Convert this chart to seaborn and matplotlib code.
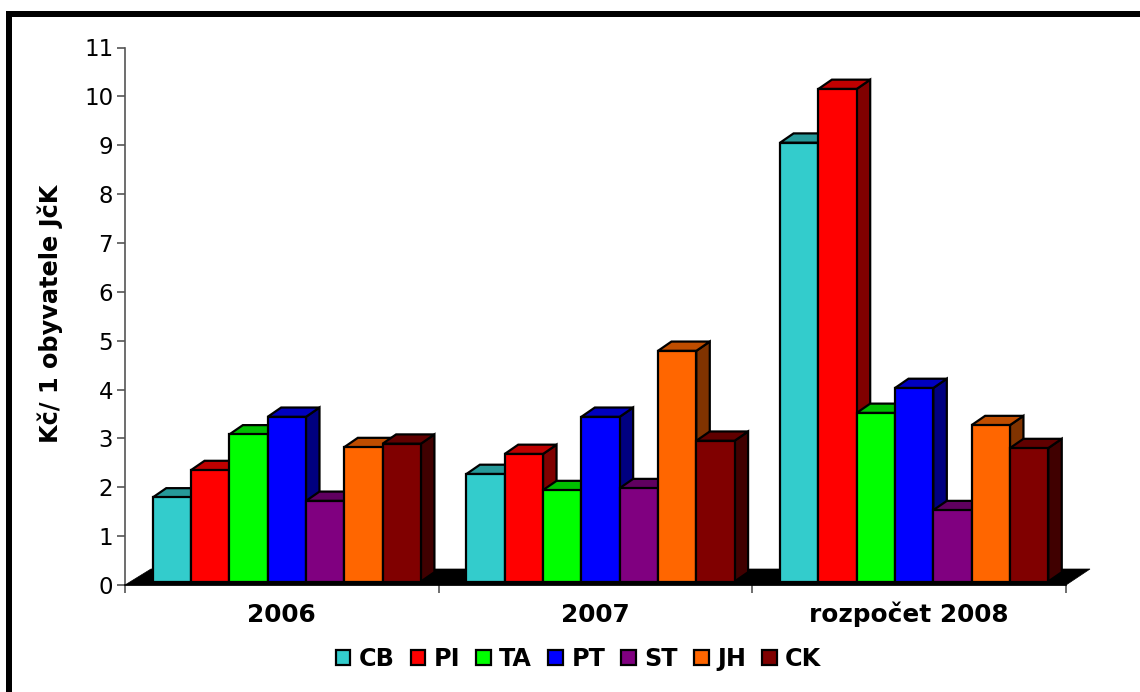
import matplotlib
matplotlib.use("Agg")
import matplotlib.pyplot as plt
from matplotlib.colors import to_rgb
from matplotlib.patches import Polygon, Rectangle
import pandas as pd
import seaborn as sns

groups = ["2006", "2007", "rozpočet 2008"]
regions = ["CB", "PI", "TA", "PT", "ST", "JH", "CK"]
cb = [1.72, 2.20, 8.98]
pi = [2.28, 2.61, 10.08]
ta = [3.01, 1.87, 3.45]
pt = [3.37, 3.37, 3.96]
st = [1.65, 1.91, 1.46]
jh = [2.75, 4.72, 3.20]
ck = [2.82, 2.88, 2.73]
colors = ["#33CCCC", "#FF0000", "#00FF00", "#0000FF", "#800080", "#FF6600", "#800000"]
yticks = list(range(12))

sns.set_style("white")
plt.rcParams["font.family"] = "DejaVu Sans"
plt.rcParams["text.color"] = "black"
plt.rcParams["axes.labelcolor"] = "black"
plt.rcParams["xtick.labelcolor"] = "black"
plt.rcParams["ytick.labelcolor"] = "black"

rows = []
for name, vals in zip(regions, [cb, pi, ta, pt, st, jh, ck]):
    for g, v in zip(groups, vals):
        rows.append({"group": g, "region": name, "value": v})
df = pd.DataFrame(rows)

fig = plt.figure(figsize=(11.4, 6.92), dpi=100)
ax = fig.add_axes([125 / 1140, 107 / 692, 941 / 1140, 537.5 / 692])

sns.barplot(
    data=df, x="group", y="value", hue="region", order=groups, hue_order=regions,
    palette=colors, width=0.855, gap=0, edgecolor="black",
    linewidth=1.6, saturation=1, errorbar=None, ax=ax,
)

# pixel sizes turned into data units
px_x = 3 / 941
px_y = 11 / 537.5
depth_x = 13.5 * px_x
depth_y = 9.3 * px_y
shift = 5 * px_x
# bars stand a little behind the front edge of the floor
base = 3.5 * px_y

ax.set_xlim(-0.5 - shift, 2.5 - shift)
ax.set_ylim(0, 11)

# fake 3d: top and side faces built from the drawn bars, left to right
bars = []
for cont, col in zip(ax.containers, colors):
    for rect in cont:
        bars.append((rect, col))
bars.sort(key=lambda b: b[0].get_x())

for k, (rect, col) in enumerate(bars):
    rect.set_y(base)
    x0 = rect.get_x()
    x1 = x0 + rect.get_width()
    y0 = rect.get_y()
    y1 = y0 + rect.get_height()
    r, g, b = to_rgb(col)
    top_col = (r * 0.75, g * 0.75, b * 0.75)
    side_col = (r * 0.5, g * 0.5, b * 0.5)
    rect.set_zorder(5 + k + 0.5)
    rect.set_clip_on(False)
    side = Polygon([(x1, y0), (x1 + depth_x, y0 + depth_y), (x1 + depth_x, y1 + depth_y), (x1, y1)],
                   closed=True, facecolor=side_col, edgecolor="black", linewidth=1.6,
                   zorder=5 + k, clip_on=False)
    top = Polygon([(x0, y1), (x0 + depth_x, y1 + depth_y), (x1 + depth_x, y1 + depth_y), (x1, y1)],
                  closed=True, facecolor=top_col, edgecolor="black", linewidth=1.6,
                  zorder=5 + k, clip_on=False)
    ax.add_patch(side)
    ax.add_patch(top)

# black floor
x_lo, x_hi = ax.get_xlim()
floor = Polygon([(x_lo, 0), (x_hi, 0), (x_hi + 24 * px_x, 16 * px_y), (x_lo + 26 * px_x, 16 * px_y)],
                closed=True, facecolor="black", edgecolor="black", linewidth=0.5,
                zorder=2, clip_on=False)
ax.add_patch(floor)

for s in ["top", "right"]:
    ax.spines[s].set_visible(False)
ax.spines["left"].set_color("#555555")
ax.spines["left"].set_linewidth(1.2)
ax.spines["bottom"].set_color("black")
ax.spines["bottom"].set_linewidth(1.2)

ax.set_yticks(yticks)
ax.tick_params(axis="y", which="major", left=True, length=6, width=1.2, color="#555555",
               labelsize=16.5, pad=2.5, labelcolor="black")
ax.set_xticks([x_lo + i for i in range(4)])
ax.set_xticklabels([])
ax.set_xticks([x_lo + 0.5 + i for i in range(3)], minor=True)
ax.set_xticklabels(groups, minor=True, fontsize=17.8, fontweight="bold", color="black")
ax.tick_params(axis="x", which="major", bottom=True, length=6, width=1.2, color="#555555")
ax.tick_params(axis="x", which="minor", bottom=False, length=0, pad=26.6)
# the č is taller than the digits, keep all three on one baseline
for lab in ax.get_xticklabels(minor=True):
    lab.set_verticalalignment("baseline")

ax.set_xlabel("")
ax.set_ylabel("Kč/ 1 obyvatele JčK", fontsize=17.3, fontweight="bold", labelpad=0, color="black")
ax.yaxis.set_label_coords(-62 / 941, 0.504)

leg = ax.legend(
    loc="center", bbox_to_anchor=(578.5 / 1140, 33 / 692), bbox_transform=fig.transFigure,
    ncol=7, frameon=False, prop={"size": 17.2, "weight": "bold"},
    handlelength=0.62, handleheight=0.62, handletextpad=0.34, columnspacing=0.68,
    borderpad=0, borderaxespad=0,
)
for h in leg.get_patches():
    h.set_edgecolor("black")
    h.set_linewidth(1.6)

# thick frame, only on top and left
fig.add_artist(Rectangle((6 / 1140, 675 / 692), 1134 / 1140, 6 / 692, transform=fig.transFigure,
                         facecolor="black", edgecolor="none"))
fig.add_artist(Rectangle((6 / 1140, 0), 6 / 1140, 681 / 692, transform=fig.transFigure,
                         facecolor="black", edgecolor="none"))

fig.savefig("out.png", dpi=100, facecolor="white")
